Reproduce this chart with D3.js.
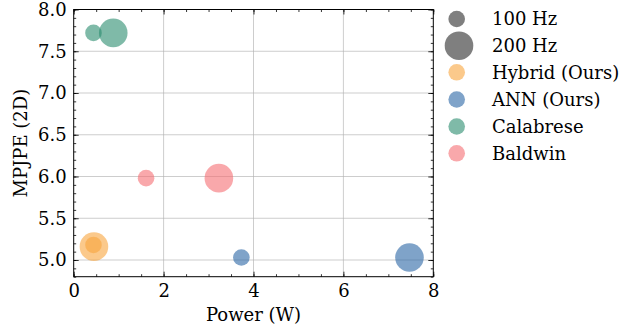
<!DOCTYPE html>
<html>
<head>
<meta charset="utf-8">
<script src="https://cdn.jsdelivr.net/npm/d3@7"></script>
<style>
  body { margin: 0; background: #fff; }
  text { font-family: "DejaVu Serif", serif; }
</style>
</head>
<body>
<svg id="chart" width="633" height="327"></svg>
<script>
// ---- data ----
const methods = ["Hybrid (Ours)", "ANN (Ours)", "Calabrese", "Baldwin"];
const frequencies = [100, 200];
const powerW = {
  "Hybrid (Ours)": [0.44, 0.45],
  "ANN (Ours)": [3.73, 7.47],
  "Calabrese": [0.44, 0.88],
  "Baldwin": [1.61, 3.23]
};
const mpjpe = {
  "Hybrid (Ours)": [5.18, 5.16],
  "ANN (Ours)": [5.03, 5.03],
  "Calabrese": [7.72, 7.72],
  "Baldwin": [5.98, 5.98]
};
const xTicks = [0, 2, 4, 6, 8];
const yTicks = [5.0, 5.5, 6.0, 6.5, 7.0, 7.5, 8.0];

// ---- styles ----
const colors = {
  "Hybrid (Ours)": "#f8a53e",
  "ANN (Ours)": "#2a66a5",
  "Calabrese": "#2a8c6e",
  "Baldwin": "#f56e73"
};
const alpha = 0.6;
const FS = 18;
const radius = d3.scaleSqrt().domain([0, 100, 200]).range([0, 8.3, 14.3]);

const svg = d3.select("#chart");
const L = 73.7, R = 433.3, T = 9.5, B = 276.7;
const x = d3.scaleLinear().domain([0, 8]).range([L, R]);
const y = d3.scaleLinear().domain([4.8, 8.0]).range([B, T]);

// grid
const grid = svg.append("g");
grid.selectAll("line.gx").data(xTicks.filter(t => t > 0 && t < 8)).join("line")
  .attr("x1", d => x(d)).attr("x2", d => x(d)).attr("y1", T).attr("y2", B)
  .attr("stroke", "#b0b0b0").attr("stroke-width", 0.8).attr("stroke-opacity", 0.8);
grid.selectAll("line.gy").data(yTicks.filter(t => t < 8)).join("line")
  .attr("y1", d => y(d)).attr("y2", d => y(d)).attr("x1", L).attr("x2", R)
  .attr("stroke", "#b0b0b0").attr("stroke-width", 0.8).attr("stroke-opacity", 0.8);

// points
const pts = [];
methods.forEach(m => frequencies.forEach((f, i) => pts.push({m, f, p: powerW[m][i], e: mpjpe[m][i]})));
svg.append("g").selectAll("circle").data(pts.sort((a,b)=>b.f-a.f)).join("circle")
  .attr("cx", d => x(d.p)).attr("cy", d => y(d.e)).attr("r", d => radius(d.f))
  .attr("fill", d => colors[d.m]).attr("fill-opacity", alpha);

// axes with inward ticks on all sides
const xMinor = d3.range(0, 8.001, 0.5);
const yMinor = d3.range(4.8, 8.001, 0.1);
function fmt1(d){ return d3.format(".1f")(d); }
const axB = d3.axisBottom(x).tickValues(xTicks).tickSize(-5).tickPadding(8).tickFormat(d3.format("d"));
const axT = d3.axisTop(x).tickValues(xTicks).tickSize(-5).tickFormat("");
const axL = d3.axisLeft(y).tickValues(yTicks).tickSize(-5).tickPadding(7).tickFormat(fmt1);
const axR = d3.axisRight(y).tickValues(yTicks).tickSize(-5).tickFormat("");
const mB = d3.axisBottom(x).tickValues(xMinor).tickSize(-2.5).tickFormat("");
const mT = d3.axisTop(x).tickValues(xMinor).tickSize(-2.5).tickFormat("");
const mL = d3.axisLeft(y).tickValues(yMinor).tickSize(-2.5).tickFormat("");
const mR = d3.axisRight(y).tickValues(yMinor).tickSize(-2.5).tickFormat("");

function place(ax, tx, ty){
  const g = svg.append("g").attr("transform", `translate(${tx},${ty})`).call(ax);
  g.select(".domain").remove();
  g.selectAll("line").attr("stroke", "#000").attr("stroke-width", 0.8);
  g.selectAll("text").attr("font-family", "DejaVu Serif").attr("font-size", FS).attr("fill", "#000");
  return g;
}
place(mB, 0, B); place(mT, 0, T); place(mL, L, 0); place(mR, R, 0);
place(axB, 0, B); place(axT, 0, T); place(axL, L, 0); place(axR, R, 0);

svg.append("rect").attr("x", L).attr("y", T).attr("width", R - L).attr("height", B - T)
  .attr("fill", "none").attr("stroke", "#000").attr("stroke-width", 1);

// labels
svg.append("text").attr("x", (L + R) / 2).attr("y", 321).attr("text-anchor", "middle")
  .attr("font-size", FS).text("Power (W)");
svg.append("text").attr("transform", `translate(27,${(T + B) / 2}) rotate(-90)`)
  .attr("text-anchor", "middle").attr("font-size", FS).text("MPJPE (2D)");

// legend
const legend = [
  {label: "100 Hz", color: "#000", f: 100},
  {label: "200 Hz", color: "#000", f: 200},
  ...methods.map(m => ({label: m, color: colors[m], f: 100}))
];
const legY = [19, 45.7, 72.3, 99.5, 126.5, 153.3];
const lg = svg.append("g");
legend.forEach((d, i) => {
  lg.append("circle").attr("cx", d.f === 200 ? 459 : 456.7).attr("cy", legY[i])
    .attr("r", radius(d.f)).attr("fill", d.color).attr("fill-opacity", i < 2 ? 0.5 : alpha);
  lg.append("text").attr("x", 492).attr("y", legY[i]).attr("dy", "0.36em")
    .attr("font-size", FS).text(d.label);
});
</script>
</body>
</html>
